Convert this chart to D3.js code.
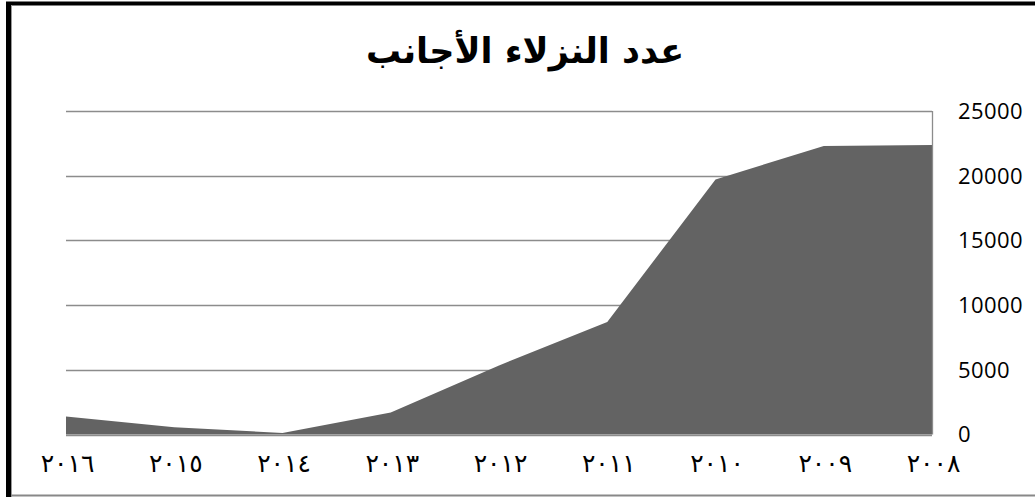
<!DOCTYPE html>
<html>
<head>
<meta charset="utf-8">
<script src="https://cdn.jsdelivr.net/npm/d3@7"></script>
<style>
    body { margin: 0; background: #fff; }
    svg { display: block; }
</style>
</head>
<body>
<svg id="chart"></svg>
<script>
// years run right-to-left: 2008 on the right
const years = ["2008", "2009", "2010", "2011", "2012", "2013", "2014", "2015", "2016"];
const yearLabels = ["٢٠٠٨", "٢٠٠٩", "٢٠١٠", "٢٠١١", "٢٠١٢", "٢٠١٣", "٢٠١٤", "٢٠١٥", "٢٠١٦"];
const guests = [22370, 22290, 19710, 8690, 5340, 1700, 120, 560, 1390];
const yTicks = [0, 5000, 10000, 15000, 20000, 25000];
const title = "عدد النزلاء الأجانب";

const width = 1035, height = 497;
const margin = { top: 111, right: 103, bottom: 62.5, left: 66 };

const svg = d3.select("#chart")
    .attr("width", width)
    .attr("height", height);

// outer frame (left + top black, cut at right/bottom)
svg.append("rect")
    .attr("x", 0).attr("y", 0)
    .attr("width", width).attr("height", height)
    .attr("fill", "#fff");
svg.append("line")
    .attr("x1", 8.5).attr("x2", 8.5)
    .attr("y1", 2).attr("y2", height)
    .attr("stroke", "#000").attr("stroke-width", 5);
svg.append("line")
    .attr("x1", 6).attr("x2", width)
    .attr("y1", 3.5).attr("y2", 3.5)
    .attr("stroke", "#000").attr("stroke-width", 4);
svg.append("line")
    .attr("x1", 11.5).attr("x2", 11.5)
    .attr("y1", 5).attr("y2", height)
    .attr("stroke", "#999").attr("stroke-width", 1);
svg.append("line")
    .attr("x1", 11).attr("x2", width)
    .attr("y1", 495.5).attr("y2", 495.5)
    .attr("stroke", "#888").attr("stroke-width", 2);

const x = d3.scalePoint()
    .domain(years.slice().reverse())
    .range([margin.left, width - margin.right]);

const y = d3.scaleLinear()
    .domain([0, 25000])
    .range([height - margin.bottom, margin.top]);

// gridlines
svg.append("g")
    .selectAll("line")
    .data(yTicks)
    .join("line")
    .attr("x1", margin.left)
    .attr("x2", width - margin.right)
    .attr("y1", d => Math.round(y(d)) + 0.5)
    .attr("y2", d => Math.round(y(d)) + 0.5)
    .attr("stroke", "#8c8c8c")
    .attr("stroke-width", 1.3);

const data = years.map((yr, i) => ({ year: yr, value: guests[i] }));

const area = d3.area()
    .x(d => x(d.year))
    .y0(y(0))
    .y1(d => y(d.value));

svg.append("path")
    .datum(data)
    .attr("d", area)
    .attr("fill", "#636363");

// right value axis line
svg.append("line")
    .attr("x1", width - margin.right + 0.5)
    .attr("x2", width - margin.right + 0.5)
    .attr("y1", y(25000))
    .attr("y2", y(0))
    .attr("stroke", "#8c8c8c")
    .attr("stroke-width", 1.3);

// y tick labels on the right
svg.append("g")
    .selectAll("text")
    .data(yTicks)
    .join("text")
    .attr("x", 958)
    .attr("y", d => y(d))
    .attr("dy", "0.36em")
    .attr("font-family", "'Open Sans', sans-serif")
    .attr("font-size", 22)
    .attr("letter-spacing", 0.4)
    .attr("fill", "#000")
    .text(d => d);

// x tick labels
svg.append("g")
    .selectAll("text")
    .data(years)
    .join("text")
    .attr("x", d => x(d) + 1.5)
    .attr("y", 472)
    .attr("text-anchor", "middle")
    .attr("font-family", "'DejaVu Sans', sans-serif")
    .attr("font-size", 25)
    .attr("letter-spacing", 3)
    .attr("fill", "#000")
    .text((d, i) => yearLabels[i]);

svg.append("text")
    .attr("x", 525)
    .attr("y", 63)
    .attr("text-anchor", "middle")
    .attr("direction", "rtl")
    .attr("font-family", "'DejaVu Sans', sans-serif")
    .attr("font-weight", "bold")
    .attr("font-size", 35)
    .attr("fill", "#000")
    .text(title);
</script>
</body>
</html>
